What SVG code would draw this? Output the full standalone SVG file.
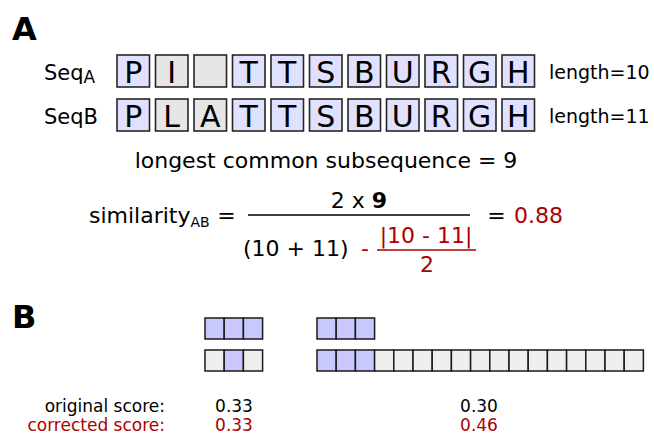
<svg xmlns="http://www.w3.org/2000/svg" width="654" height="435" viewBox="0 0 654 435">
<style>
text{font-family:"DejaVu Sans",Verdana,sans-serif;fill:#000}
.hd{font-weight:bold;font-size:32px}
.lab{font-size:21px}
.fx{font-size:22px}
.len{font-size:19px}
.let{font-size:30px;text-anchor:middle}
.red{fill:#aa0000}
.sc{font-size:17px}
.bx{stroke:#262626;stroke-width:1.6}
.m{fill:#e0e0ff}
.g{fill:#e6e6e6}
.bm{fill:#c8c8ff;stroke:#1a1a1a;stroke-width:1.5}
.bg{fill:#efefef;stroke:#1a1a1a;stroke-width:1.5}
</style>
<rect width="654" height="435" fill="#fff"/>
<g id="partA">
<text class="hd" x="12" y="40">A</text>
<text class="lab" x="44" y="80">Seq<tspan font-size="17" dy="3">A</tspan></text>
<text class="lab" x="44" y="124">SeqB</text>
<g id="seqA">
<rect class="bx m" x="117" y="55" width="32.5" height="32"/><text class="let" x="133.2" y="83">P</text>
<rect class="bx g" x="155.5" y="55" width="32.5" height="32"/><text class="let" x="171.7" y="83">I</text>
<rect class="bx g" x="194" y="55" width="32.5" height="32"/>
<rect class="bx m" x="232.5" y="55" width="32.5" height="32"/><text class="let" x="248.7" y="83">T</text>
<rect class="bx m" x="271" y="55" width="32.5" height="32"/><text class="let" x="287.2" y="83">T</text>
<rect class="bx m" x="309.5" y="55" width="32.5" height="32"/><text class="let" x="325.7" y="83">S</text>
<rect class="bx m" x="348" y="55" width="32.5" height="32"/><text class="let" x="364.2" y="83">B</text>
<rect class="bx m" x="386.5" y="55" width="32.5" height="32"/><text class="let" x="402.7" y="83">U</text>
<rect class="bx m" x="425" y="55" width="32.5" height="32"/><text class="let" x="441.2" y="83">R</text>
<rect class="bx m" x="463.5" y="55" width="32.5" height="32"/><text class="let" x="479.7" y="83">G</text>
<rect class="bx m" x="502" y="55" width="32.5" height="32"/><text class="let" x="518.2" y="83">H</text>
</g>
<g id="seqB">
<rect class="bx m" x="117" y="99" width="32.5" height="32"/><text class="let" x="133.2" y="127">P</text>
<rect class="bx g" x="155.5" y="99" width="32.5" height="32"/><text class="let" x="171.7" y="127">L</text>
<rect class="bx g" x="194" y="99" width="32.5" height="32"/><text class="let" x="210.2" y="127">A</text>
<rect class="bx m" x="232.5" y="99" width="32.5" height="32"/><text class="let" x="248.7" y="127">T</text>
<rect class="bx m" x="271" y="99" width="32.5" height="32"/><text class="let" x="287.2" y="127">T</text>
<rect class="bx m" x="309.5" y="99" width="32.5" height="32"/><text class="let" x="325.7" y="127">S</text>
<rect class="bx m" x="348" y="99" width="32.5" height="32"/><text class="let" x="364.2" y="127">B</text>
<rect class="bx m" x="386.5" y="99" width="32.5" height="32"/><text class="let" x="402.7" y="127">U</text>
<rect class="bx m" x="425" y="99" width="32.5" height="32"/><text class="let" x="441.2" y="127">R</text>
<rect class="bx m" x="463.5" y="99" width="32.5" height="32"/><text class="let" x="479.7" y="127">G</text>
<rect class="bx m" x="502" y="99" width="32.5" height="32"/><text class="let" x="518.2" y="127">H</text>
</g>
<text class="len" x="549" y="79">length=10</text>
<text class="len" x="549" y="123">length=11</text>
<text class="fx" x="326" y="168" text-anchor="middle">longest common subsequence = 9</text>
<g id="formula">
<text class="fx" x="89" y="223">similarity<tspan font-size="14" dy="4">AB</tspan></text>
<text class="fx" x="226.5" y="223" text-anchor="middle">=</text>
<line x1="248" y1="215" x2="470" y2="215" stroke="#000" stroke-width="1.5"/>
<text class="fx" x="359" y="208" text-anchor="middle">2 x <tspan font-weight="bold">9</tspan></text>
<text class="fx" x="243" y="256">(10 + 11)</text>
<text class="fx red" x="361" y="256">-</text>
<text class="fx red" x="426" y="243" text-anchor="middle">|10 - 11|</text>
<line x1="377" y1="250" x2="476" y2="250" stroke="#aa0000" stroke-width="1.5"/>
<text class="fx red" x="427" y="272" text-anchor="middle">2</text>
<text class="fx" x="496.5" y="223" text-anchor="middle">=</text>
<text class="fx red" x="514" y="223">0.88</text>
</g>
</g>
<g id="partB">
<text class="hd" x="12" y="328">B</text>
<g id="left-top">
<rect class="bm" x="205" y="318" width="19.2" height="21"/>
<rect class="bm" x="224.2" y="318" width="19.2" height="21"/>
<rect class="bm" x="243.4" y="318" width="19.2" height="21"/>
</g>
<g id="left-bottom">
<rect class="bg" x="205" y="350" width="19.2" height="21"/>
<rect class="bm" x="224.2" y="350" width="19.2" height="21"/>
<rect class="bg" x="243.4" y="350" width="19.2" height="21"/>
</g>
<g id="right-top">
<rect class="bm" x="317" y="318" width="19.2" height="21"/>
<rect class="bm" x="336.2" y="318" width="19.2" height="21"/>
<rect class="bm" x="355.4" y="318" width="19.2" height="21"/>
</g>
<g id="right-bottom">
<rect class="bm" x="317" y="350" width="19.2" height="21"/>
<rect class="bm" x="336.2" y="350" width="19.2" height="21"/>
<rect class="bm" x="355.4" y="350" width="19.2" height="21"/>
<rect class="bg" x="374.6" y="350" width="19.2" height="21"/>
<rect class="bg" x="393.8" y="350" width="19.2" height="21"/>
<rect class="bg" x="413" y="350" width="19.2" height="21"/>
<rect class="bg" x="432.2" y="350" width="19.2" height="21"/>
<rect class="bg" x="451.4" y="350" width="19.2" height="21"/>
<rect class="bg" x="470.6" y="350" width="19.2" height="21"/>
<rect class="bg" x="489.8" y="350" width="19.2" height="21"/>
<rect class="bg" x="509" y="350" width="19.2" height="21"/>
<rect class="bg" x="528.2" y="350" width="19.2" height="21"/>
<rect class="bg" x="547.4" y="350" width="19.2" height="21"/>
<rect class="bg" x="566.6" y="350" width="19.2" height="21"/>
<rect class="bg" x="585.8" y="350" width="19.2" height="21"/>
<rect class="bg" x="605" y="350" width="19.2" height="21"/>
<rect class="bg" x="624.2" y="350" width="19.2" height="21"/>
</g>
<text class="sc" x="165" y="412" text-anchor="end">original score:</text>
<text class="sc red" x="165" y="431" text-anchor="end">corrected score:</text>
<text class="sc" x="234" y="412" text-anchor="middle">0.33</text>
<text class="sc red" x="234" y="431" text-anchor="middle">0.33</text>
<text class="sc" x="479" y="412" text-anchor="middle">0.30</text>
<text class="sc red" x="479" y="431" text-anchor="middle">0.46</text>
</g>
</svg>
